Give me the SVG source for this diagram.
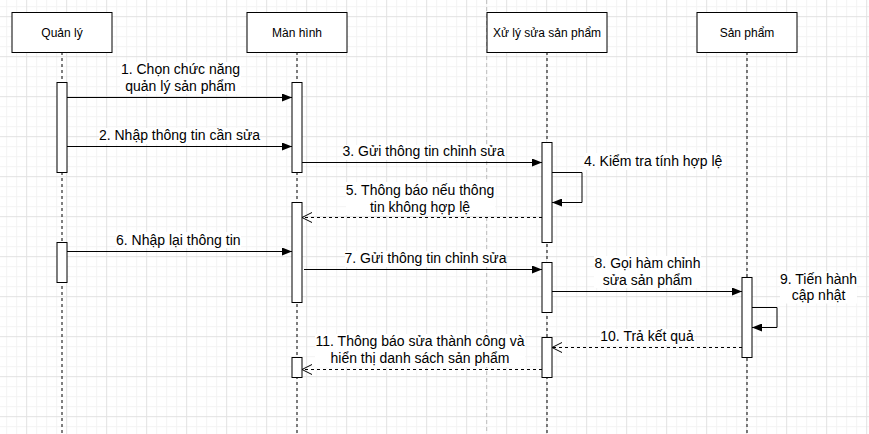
<svg xmlns="http://www.w3.org/2000/svg" width="869" height="434" viewBox="0 0 869 434">
<defs>
<pattern id="grid" x="26.17" y="16.17" width="40" height="40" patternUnits="userSpaceOnUse">
<path d="M10.5 0V40M20.5 0V40M30.5 0V40M0 10.5H40M0 20.5H40M0 30.5H40" stroke="#f3f3f3" stroke-width="1" fill="none"/>
<path d="M0.5 0V40M0 0.5H40" stroke="#e2e2e2" stroke-width="1" fill="none"/>
</pattern>
<marker id="block" viewBox="0 0 10 8" refX="10" refY="4" markerWidth="10" markerHeight="8" markerUnits="userSpaceOnUse" orient="auto">
<path d="M0 0L10 4L0 8z" fill="#000"/>
</marker>
<marker id="open" viewBox="-1 -1 12 12" refX="10" refY="5" markerWidth="12" markerHeight="12" markerUnits="userSpaceOnUse" orient="auto">
<path d="M0 0L10 5L0 10" fill="none" stroke="#000" stroke-width="1"/>
</marker>
</defs>
<style>
.hdr{fill:#fff;stroke:#000;stroke-width:1}
.bar{fill:#fff;stroke:#000;stroke-width:1}
.life{stroke:#000;stroke-width:1;stroke-dasharray:3 3;fill:none}
.msg{stroke:#000;stroke-width:1;fill:none;marker-end:url(#block)}
.ret{stroke:#000;stroke-width:1;fill:none;stroke-dasharray:3 3;marker-end:url(#open)}
.ht{font-family:"Liberation Sans",Arial,sans-serif;font-size:12px;fill:#000;text-anchor:middle}
.lt{font-family:"Liberation Sans",Arial,sans-serif;font-size:14px;fill:#000;text-anchor:middle}
.lbg{fill:#fff}
</style>
<rect width="869" height="434" fill="#fff"/>
<rect width="869" height="434" fill="url(#grid)"/>
<line x1="486.7" y1="0" x2="486.7" y2="434" stroke="#bdbdbd" stroke-width="1" stroke-dasharray="4 3"/>

<g id="lifelines">
<line class="life" x1="62" y1="52" x2="62" y2="434"/>
<line class="life" x1="297" y1="52" x2="297" y2="434"/>
<line class="life" x1="547" y1="52" x2="547" y2="434"/>
<line class="life" x1="747" y1="52" x2="747" y2="434"/>
</g>

<g id="node-quanly">
<rect class="hdr" x="12" y="12.5" width="100" height="40"/>
<text class="ht" x="62" y="37">Quản lý</text>
</g>
<g id="node-manhinh">
<rect class="hdr" x="247" y="12.5" width="100" height="40"/>
<text class="ht" x="297" y="37">Màn hình</text>
</g>
<g id="node-xuly">
<rect class="hdr" x="487" y="12.5" width="120" height="40"/>
<text class="ht" x="547" y="37">Xử lý sửa sản phẩm</text>
</g>
<g id="node-sanpham">
<rect class="hdr" x="697" y="12.5" width="100" height="40"/>
<text class="ht" x="747" y="37">Sản phẩm</text>
</g>

<g id="activations">
<rect class="bar" x="57" y="82.5" width="10" height="90"/>
<rect class="bar" x="57" y="242.5" width="10" height="40"/>
<rect class="bar" x="292" y="82.5" width="10" height="90"/>
<rect class="bar" x="292" y="202.5" width="10" height="100"/>
<rect class="bar" x="292" y="357.5" width="10" height="20"/>
<rect class="bar" x="542" y="142.5" width="10" height="100"/>
<rect class="bar" x="542" y="262.5" width="10" height="50"/>
<rect class="bar" x="542" y="337.5" width="10" height="40"/>
<rect class="bar" x="742" y="277.5" width="10" height="80"/>
</g>

<g id="connectors">
<path class="msg" d="M67 97.5H292"/>
<path class="msg" d="M67 146.5H292"/>
<path class="msg" d="M302 162.5H542"/>
<path class="msg" d="M552 172.5H582V202.5H552"/>
<path class="ret" d="M542 217.5H302"/>
<path class="msg" d="M67 251.5H292"/>
<path class="msg" d="M304 269.5H542"/>
<path class="msg" d="M552 291.5H742"/>
<path class="msg" d="M752 307.5H777V327.5H752"/>
<path class="ret" d="M742 347.5H552"/>
<path class="ret" d="M542 369.5H302"/>
</g>

<g id="labels">
<rect class="lbg" x="120" y="62" width="121" height="32"/>
<text class="lt" x="180.5" y="74">1. Chọn chức năng</text>
<text class="lt" x="180.5" y="90.5">quản lý sản phẩm</text>

<rect class="lbg" x="99" y="128" width="161" height="16"/>
<text class="lt" x="179.5" y="140">2. Nhập thông tin cần sửa</text>

<rect class="lbg" x="343" y="145" width="161" height="15"/>
<text class="lt" x="423.5" y="156">3. Gửi thông tin chỉnh sửa</text>

<rect class="lbg" x="584" y="153" width="137" height="17"/>
<text class="lt" x="584" y="166" style="text-anchor:start">4. Kiểm tra tính hợp lệ</text>

<rect class="lbg" x="346" y="182" width="149" height="33"/>
<text class="lt" x="420" y="195">5. Thông báo nếu thông</text>
<text class="lt" x="420" y="211.5">tin không hợp lệ</text>

<rect class="lbg" x="116" y="232" width="125" height="16"/>
<text class="lt" x="178.3" y="244.5">6. Nhập lại thông tin</text>

<rect class="lbg" x="345" y="251" width="161" height="16"/>
<text class="lt" x="425.5" y="263">7. Gửi thông tin chỉnh sửa</text>

<rect class="lbg" x="594" y="256" width="107" height="32"/>
<text class="lt" x="647.5" y="268">8. Gọi hàm chỉnh</text>
<text class="lt" x="647.5" y="284.5">sửa sản phẩm</text>

<rect class="lbg" x="780" y="271.5" width="77" height="32"/>
<text class="lt" x="818.5" y="284">9. Tiến hành</text>
<text class="lt" x="818.5" y="300">cập nhật</text>

<rect class="lbg" x="600" y="329" width="94" height="16"/>
<text class="lt" x="647" y="341">10. Trả kết quả</text>

<rect class="lbg" x="315" y="334" width="210" height="33"/>
<text class="lt" x="420" y="346">11. Thông báo sửa thành công và</text>
<text class="lt" x="420" y="362.5">hiển thị danh sách sản phẩm</text>
</g>
</svg>
